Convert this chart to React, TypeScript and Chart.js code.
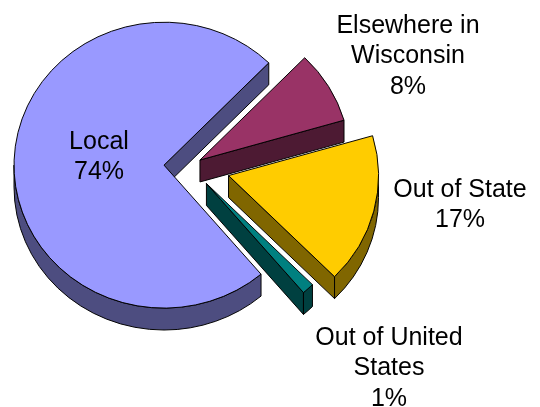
import React, { useEffect, useRef } from "react";
import { Chart, registerables } from "chart.js";

Chart.register(...registerables);

const categories = ["Local", "Elsewhere in Wisconsin", "Out of State", "Out of United States"];
const shares = [73.5, 8.2, 17, 1.3];
const labelLines = [["Local"], ["Elsewhere in", "Wisconsin"], ["Out of State"], ["Out of United", "States"]];
const topColors = ["#9999FF", "#993366", "#FFCC00", "#008080"];
const sideColors = ["#4D4D80", "#4D1A33", "#806600", "#004040"];
const explode = [25.5, 12.2, 40.3, 25];
const labelAnchors = [
  { x: 99, y: 148.5 },
  { x: 408, y: 32.5 },
  { x: 460, y: 196.5 },
  { x: 389, y: 344.5 },
];
const drawOrder = [0, 1, 3, 2];

const SQUASH = 0.953;
const DEPTH = 23;
const FONT_SIZE = 25;
const LINE_GAP = 30.5;

function drawSides(ctx: CanvasRenderingContext2D, arc: any, fill: string) {
  const { x, y, startAngle: a0, endAngle: a1, outerRadius: r } = arc.getProps(["x", "y", "startAngle", "endAngle", "outerRadius"]);
  ctx.save();
  ctx.fillStyle = fill;
  ctx.strokeStyle = "#000";
  ctx.lineWidth = 1;
  ctx.lineJoin = "round";
  const radial = (t: number) => {
    ctx.beginPath();
    ctx.moveTo(x, y);
    ctx.lineTo(x + Math.cos(t) * r, y + Math.sin(t) * r);
    ctx.lineTo(x + Math.cos(t) * r, y + Math.sin(t) * r + DEPTH);
    ctx.lineTo(x, y + DEPTH);
    ctx.closePath();
    ctx.fill();
    ctx.stroke();
  };
  if (Math.cos(a1) > 0) radial(a1);
  if (Math.cos(a0) < 0) radial(a0);
  for (let k = -2; k <= 2; k++) {
    const s = Math.max(a0, 2 * Math.PI * k);
    const e = Math.min(a1, 2 * Math.PI * k + Math.PI);
    if (e <= s) continue;
    ctx.beginPath();
    ctx.arc(x, y, r, s, e);
    ctx.arc(x, y + DEPTH, r, e, s, true);
    ctx.closePath();
    ctx.fill();
    ctx.stroke();
  }
  ctx.restore();
}

const pie3d = {
  id: "pie3d",
  beforeDatasetDraw(chart: any) {
    const ctx: CanvasRenderingContext2D = chart.ctx;
    const arcs = chart.getDatasetMeta(0).data;
    for (const i of drawOrder) {
      const arc = arcs[i];
      const { x, y, startAngle, endAngle } = arc.getProps(["x", "y", "startAngle", "endAngle"]);
      const mid = (startAngle + endAngle) / 2;
      ctx.save();
      ctx.translate(x, y);
      ctx.scale(1, SQUASH);
      ctx.translate(-x, -y);
      ctx.translate(Math.cos(mid) * explode[i], Math.sin(mid) * explode[i]);
      drawSides(ctx, arc, sideColors[i]);
      arc.draw(ctx);
      ctx.restore();
    }
    return false;
  },
  afterDraw(chart: any) {
    const ctx: CanvasRenderingContext2D = chart.ctx;
    ctx.save();
    ctx.fillStyle = "#000";
    ctx.font = `${FONT_SIZE}px "Liberation Sans", Arial, sans-serif`;
    ctx.textAlign = "center";
    ctx.textBaseline = "alphabetic";
    labelLines.forEach((lines, i) => {
      const rows = [...lines, `${Math.round(shares[i])}%`];
      rows.forEach((row, j) => ctx.fillText(row, labelAnchors[i].x, labelAnchors[i].y + j * LINE_GAP));
    });
    ctx.restore();
  },
};

export default function App() {
  const ref = useRef<HTMLCanvasElement | null>(null);
  useEffect(() => {
    document.body.style.margin = "0";
    document.body.style.background = "#fff";
    const chart = new Chart(ref.current as HTMLCanvasElement, {
      type: "pie",
      data: {
        labels: categories,
        datasets: [
          {
            data: shares,
            backgroundColor: topColors,
            borderColor: "#000",
            borderWidth: 1,
          },
        ],
      },
      options: {
        responsive: false,
        animation: false,
        rotation: 139.7,
        radius: 150,
        layout: { padding: { left: 0, top: 0, right: 161, bottom: 75 } },
        plugins: { legend: { display: false }, tooltip: { enabled: false } },
      },
      plugins: [pie3d],
    } as any);
    return () => chart.destroy();
  }, []);
  return <canvas ref={ref} width={540} height={407} style={{ display: "block" }} />;
}
